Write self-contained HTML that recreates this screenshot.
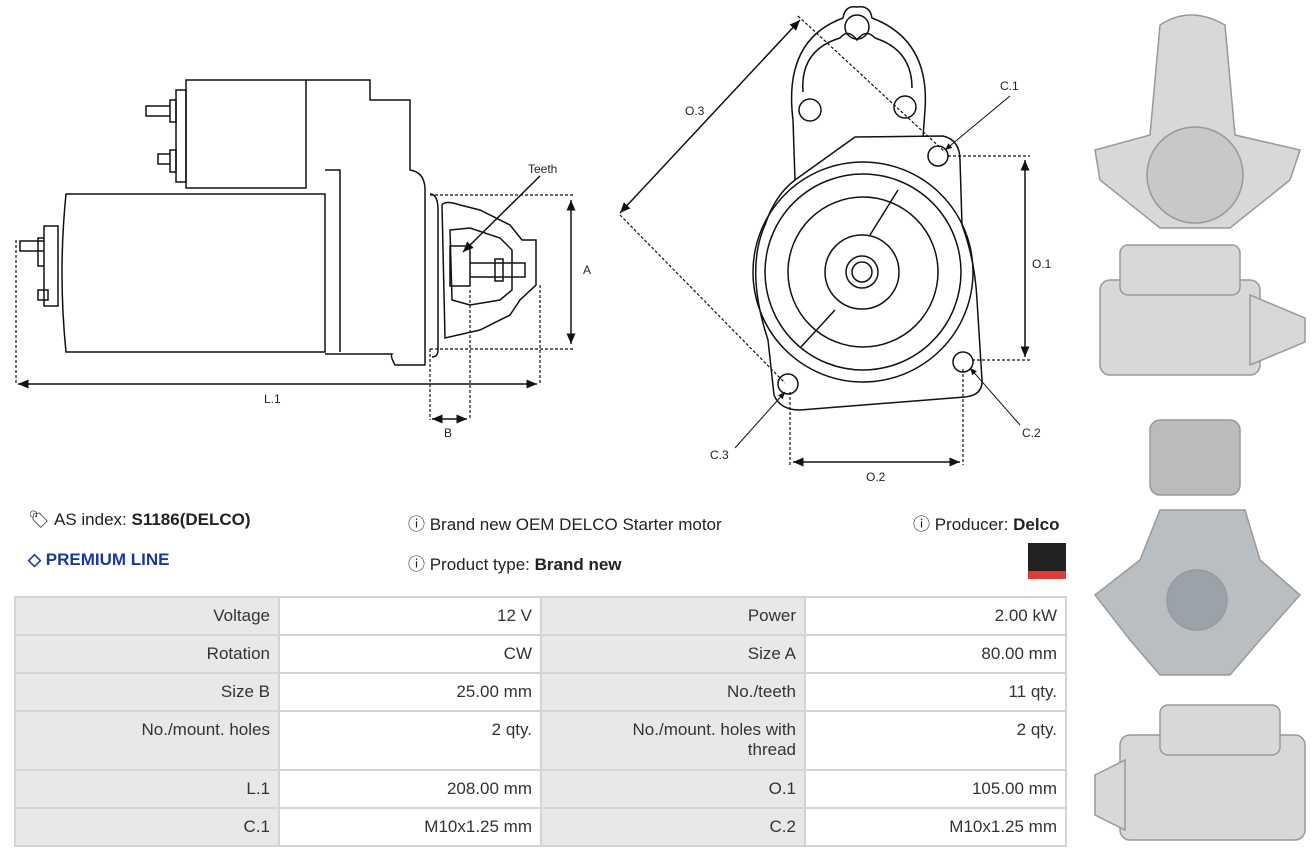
<!DOCTYPE html>
<html><head><meta charset="utf-8"><style>
body{margin:0;width:1316px;height:860px;background:#fff;font-family:"Liberation Sans",Arial,sans-serif;position:relative;overflow:hidden;color:#222}
.t{position:absolute;font-size:17px;white-space:nowrap}
table{position:absolute;left:14px;top:596px;border-collapse:collapse;width:1053px}
td{border:2px solid #d4d4d4;font-size:17px;color:#333;text-align:right;padding:8px 8px;vertical-align:top;height:20px}
td.g{background:#e8e8e8}
</style></head><body>
<svg width="1316" height="860" style="position:absolute;left:0;top:0" font-family="Liberation Sans" font-size="12" fill="none" stroke="#111" stroke-width="1.5">
<defs><marker id="a" markerWidth="8" markerHeight="8" refX="7" refY="4" orient="auto"><path d="M0,1L7,4L0,7" fill="#111" stroke="none"/></marker>
<marker id="b" markerWidth="8" markerHeight="8" refX="1" refY="4" orient="auto"><path d="M8,1L1,4L8,7" fill="#111" stroke="none"/></marker></defs>
<path d="M66,194H325V352H66Q58,273 66,194Z"/>
<path d="M325,170H340V352"/>
<path d="M186,80H306V188H186Z"/><path d="M176,90H186V182H176Z"/>
<path d="M306,80H370V100H410V170Q424,172 425,188V365H395Q390,356 392,354H325"/>
<path d="M170,100h6v22h-6zM170,150h6v22h-6zM146,106h24v10h-24zM158,154h12v10h-12z"/>
<path d="M44,226h14v80h-14zM38,238h6v28h-6zM20,241h24v10h-24zM38,290h10v10h-10z"/>
<path d="M430,194Q438,194 438,210V350Q438,357 432,357"/>
<path d="M442,205Q445,200 460,205L480,210L510,225L522,240H536V285L520,300L510,315L480,330L445,338Z"/>
<path d="M450,230L470,228L500,238L512,250V290L500,300L470,305L452,300Z"/>
<path d="M450,246h20v40h-20zM470,263h55v14h-55zM495,259h8v22h-8z"/>
<g stroke-dasharray="3,2" stroke-width="1.2"><path d="M430,195H575M430,349H575M16,240V385M540,285V385M430,349V420M470,290V420"/></g>
<path d="M571,200V344" marker-start="url(#b)" marker-end="url(#a)"/>
<path d="M18,384H537" marker-start="url(#b)" marker-end="url(#a)"/>
<path d="M432,419H467" marker-start="url(#b)" marker-end="url(#a)"/>
<path d="M540,176L463,252" marker-end="url(#a)"/>
<path d="M795,180L793,120Q783,40 843,18Q845,5 857,7Q870,5 872,18Q930,40 925,110L923,137"/>
<path d="M803,92Q800,50 840,38Q848,28 857,40Q866,28 875,38Q912,50 912,88"/>
<path d="M795,180L855,137L943,136Q960,140 960,160L962,225Q975,260 977,300L982,380Q983,395 965,397L800,410Q780,410 774,395L768,340Q745,270 765,225Q775,195 795,180"/>
<circle cx="857" cy="27" r="12"/><circle cx="810" cy="110" r="11"/><circle cx="905" cy="107" r="11"/>
<circle cx="863" cy="272" r="110"/><circle cx="863" cy="272" r="98"/><circle cx="863" cy="272" r="75"/><circle cx="862" cy="272" r="37"/><circle cx="862" cy="272" r="16"/><circle cx="862" cy="272" r="10"/>
<path d="M898,190L870,235M835,310L800,348"/>
<circle cx="938" cy="156" r="10"/><circle cx="963" cy="362" r="10"/><circle cx="788" cy="384" r="10"/>
<g stroke-dasharray="3,2" stroke-width="1.2"><path d="M948,156H1030M972,360H1030M790,392V465M963,369V465M620,215L785,383M798,16L945,152"/></g>
<path d="M1025,160V357" marker-start="url(#b)" marker-end="url(#a)"/>
<path d="M793,462H960" marker-start="url(#b)" marker-end="url(#a)"/>
<path d="M620,213L800,20" marker-start="url(#b)" marker-end="url(#a)"/>
<path d="M1010,96L945,150" marker-end="url(#a)" stroke-width="1"/>
<path d="M1020,425L970,368" marker-end="url(#a)" stroke-width="1"/>
<path d="M735,448L785,392" marker-end="url(#a)" stroke-width="1"/>
<g fill="#222" stroke="none"><text x="528" y="173">Teeth</text><text x="583" y="274">A</text><text x="264" y="403">L.1</text><text x="444" y="437">B</text>
<text x="685" y="115">O.3</text><text x="1000" y="90">C.1</text><text x="1032" y="268">O.1</text><text x="1022" y="437">C.2</text><text x="710" y="459">C.3</text><text x="866" y="481">O.2</text></g>
<g stroke="#999" fill="#d6d8da">
<path d="M1095,150L1150,135L1160,25Q1190,5 1225,25L1235,135L1300,150L1290,180L1230,228H1160L1100,180Z"/>
<circle cx="1195" cy="175" r="48" fill="#c8c8c8"/>
<rect x="1100" y="280" width="160" height="95" rx="10"/><rect x="1120" y="245" width="120" height="50" rx="8"/><path d="M1250,295L1305,318V342L1250,365Z"/>
<path d="M1095,595L1140,560L1160,510H1245L1260,560L1300,595L1260,640L1230,675H1160L1130,640Z" fill="#b9bec2"/>
<circle cx="1197" cy="600" r="30" fill="#9aa3a8"/>
<rect x="1150" y="420" width="90" height="75" rx="10" fill="#bbb"/>
<rect x="1120" y="735" width="185" height="105" rx="10"/><rect x="1160" y="705" width="120" height="50" rx="8"/><path d="M1095,775L1125,760V830L1095,815Z"/>
</g>
<rect x="1028" y="543" width="38" height="28" fill="#222" stroke="none"/><rect x="1028" y="571" width="38" height="8" fill="#e53935" stroke="none"/>
</svg>
<div class="t" style="left:28px;top:510px">&#x1F3F7;&#xFE0E;</div>
<div class="t" style="left:54px;top:510px">AS index: <b>S1186(DELCO)</b></div>
<div class="t" style="left:28px;top:550px;color:#1a3a9a;font-weight:bold">&#9671; PREMIUM LINE</div>
<div class="t" style="left:408px;top:510px">&#9432; Brand new OEM DELCO Starter motor</div>
<div class="t" style="left:408px;top:550px">&#9432; Product type: <b>Brand new</b></div>
<div class="t" style="left:913px;top:510px">&#9432; Producer: <b>Delco</b></div>
<table>
<tr><td class="g" style="width:246px">Voltage</td><td style="width:244px">12 V</td><td class="g" style="width:246px">Power</td><td>2.00 kW</td></tr>
<tr><td class="g">Rotation</td><td>CW</td><td class="g">Size A</td><td>80.00 mm</td></tr>
<tr><td class="g">Size B</td><td>25.00 mm</td><td class="g">No./teeth</td><td>11 qty.</td></tr>
<tr><td class="g" style="height:41px">No./mount. holes</td><td>2 qty.</td><td class="g">No./mount. holes with<br>thread</td><td>2 qty.</td></tr>
<tr><td class="g">L.1</td><td>208.00 mm</td><td class="g">O.1</td><td>105.00 mm</td></tr>
<tr><td class="g">C.1</td><td>M10x1.25 mm</td><td class="g">C.2</td><td>M10x1.25 mm</td></tr>
</table>
</body></html>
